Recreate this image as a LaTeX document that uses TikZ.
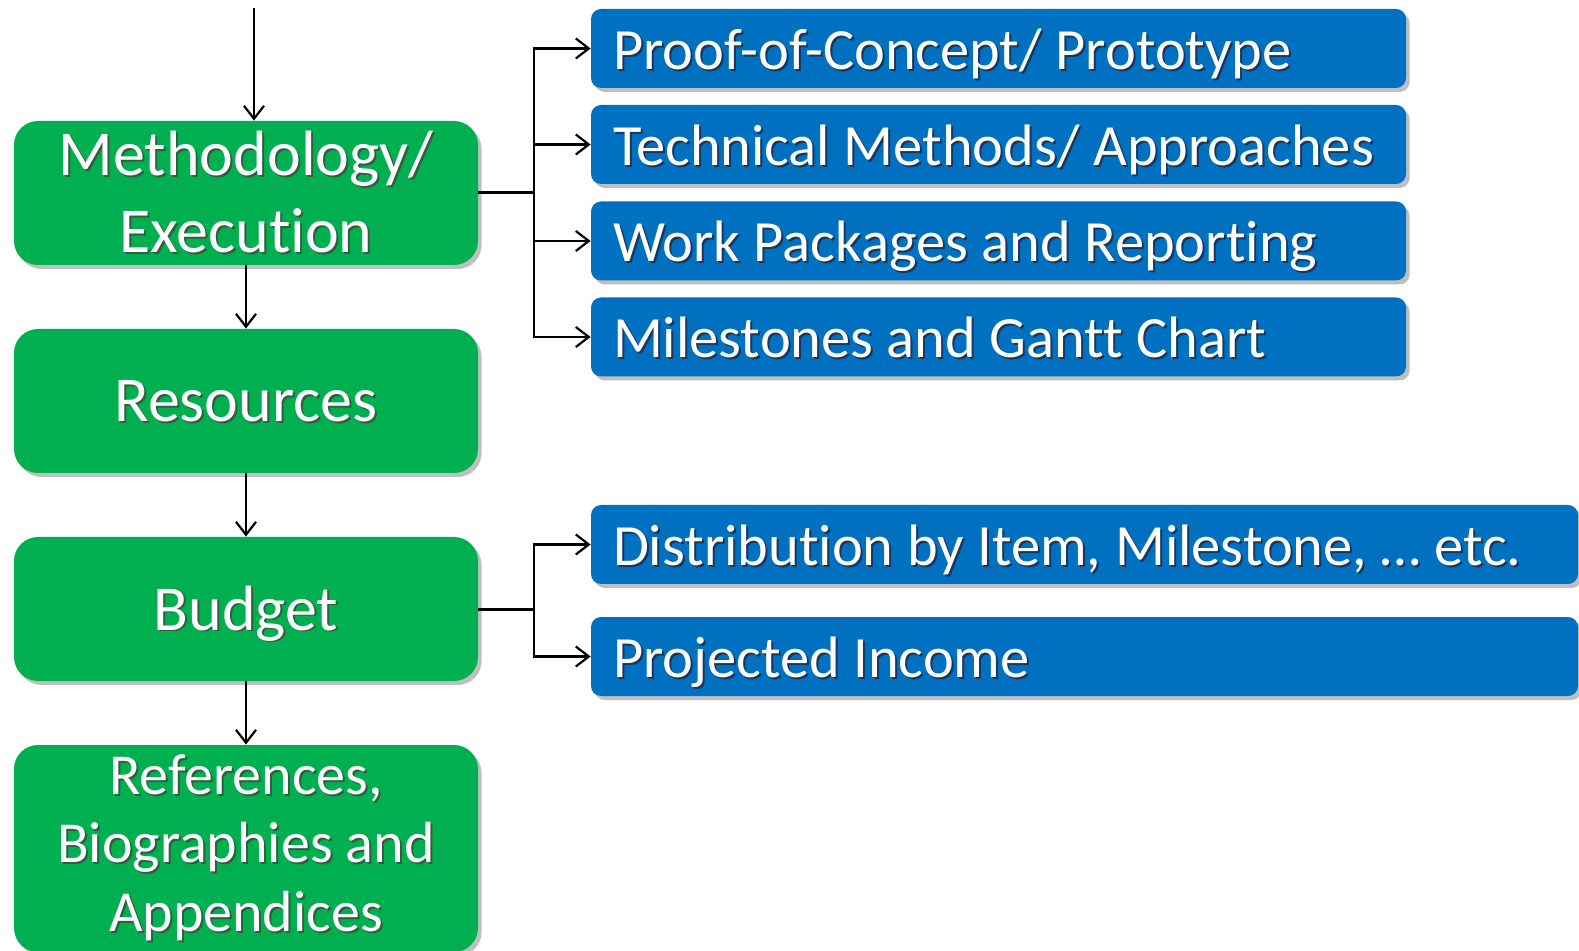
\documentclass[tikz,border=0pt]{standalone}
\usepackage{fontspec}
\setmainfont{Carlito}[Ligatures={NoCommon,NoContextual},Contextuals=NoAlternate]
\usetikzlibrary{shadows,arrows.meta}
\definecolor{pgreen}{HTML}{00B050}
\definecolor{pblue}{HTML}{0070C0}
\definecolor{gshc}{HTML}{2F5F3F}
\definecolor{bshc}{HTML}{17375E}
\newcommand\gtx[1]{\leavevmode\rlap{\kern1pt\raisebox{-1pt}{\color{gshc}#1}}#1}
\newcommand\btx[1]{\leavevmode\rlap{\kern1pt\raisebox{-1pt}{\color{bshc}#1}}#1}
\begin{document}
\begin{tikzpicture}[x=0.5pt,y=-0.5pt,
  gbox/.style={rectangle, rounded corners=12pt, fill=pgreen, text=white,
    minimum width=232pt, minimum height=72pt, inner sep=0pt, align=center,
    font=\fontsize{32pt}{38.5pt}\selectfont,
    drop shadow={shadow xshift=1.8pt, shadow yshift=-2pt, opacity=0.25, fill=black}},
  gone/.style={text height=22pt, text depth=1pt},
  bbox/.style={rectangle, rounded corners=5pt, fill=pblue, text=white,
    minimum height=39.5pt, inner xsep=11pt, inner ysep=0pt, align=left,
    font=\fontsize{29.2pt}{34pt}\selectfont, text height=24pt, text depth=3pt,
    execute at begin node={\spaceskip=6.8pt\relax},
    drop shadow={shadow xshift=1.8pt, shadow yshift=-2pt, opacity=0.25, fill=black}},
  arr/.style={-{Straight Barb[length=6.5pt,width=10pt]}, line width=1.1pt},
  trunk/.style={line width=1.5pt}]

% green column
\node[gbox] (meth) at (246,193) {\gtx{Methodology/}\\\gtx{Execution}};
\node[gbox,gone] (res) at (246,401) {\gtx{Resources}};
\node[gbox,gone] (bud) at (246,609) {\gtx{Budget}};
\node[gbox, minimum height=103.5pt, font=\fontsize{29pt}{34.25pt}\selectfont] (ref) at (246,848.5)
  {\gtx{References,}\\\gtx{Biographies and}\\\gtx{Appendices}};

% blue boxes
\node[bbox, text width=385.5pt] (b1) at (998.5,48.5) {\btx{Proof-of-Concept/ Prototype}};
\node[bbox, text width=385.5pt] (b2) at (998.5,144.5) {\btx{Technical Methods/ Approaches}};
\node[bbox, text width=385.5pt] (b3) at (998.5,241) {\btx{Work Packages and Reporting}};
\node[bbox, text width=385.5pt] (b4) at (998.5,337) {\btx{Milestones and Gantt Chart}};
\node[bbox, text width=471.5pt] (b5) at (1084.5,544.5) {\btx{Distribution by Item, Milestone, … etc.}};
\node[bbox, text width=471.5pt] (b6) at (1084.5,656.5) {\btx{Projected Income}};

% vertical flow
\coordinate (top) at (254,8);
\draw[arr] (top) -- (top |- meth.north);
\draw[arr] (meth.south) -- (res.north);
\draw[arr] (res.south) -- (bud.north);
\draw[arr] (bud.south) -- (ref.north);

% branches
\coordinate (j1) at (534,193);
\draw[trunk] (meth.east) -- (j1);
\draw[arr] (j1) |- (b1.west);
\draw[arr] (j1) |- (b2.west);
\draw[arr] (j1) |- (b3.west);
\draw[arr] (j1) |- (b4.west);

\coordinate (j2) at (534,609);
\draw[trunk] (bud.east) -- (j2);
\draw[arr] (j2) |- (b5.west);
\draw[arr] (j2) |- (b6.west);

\pgfresetboundingbox
\useasboundingbox (0,0) rectangle (1579,951);
\end{tikzpicture}
\end{document}
